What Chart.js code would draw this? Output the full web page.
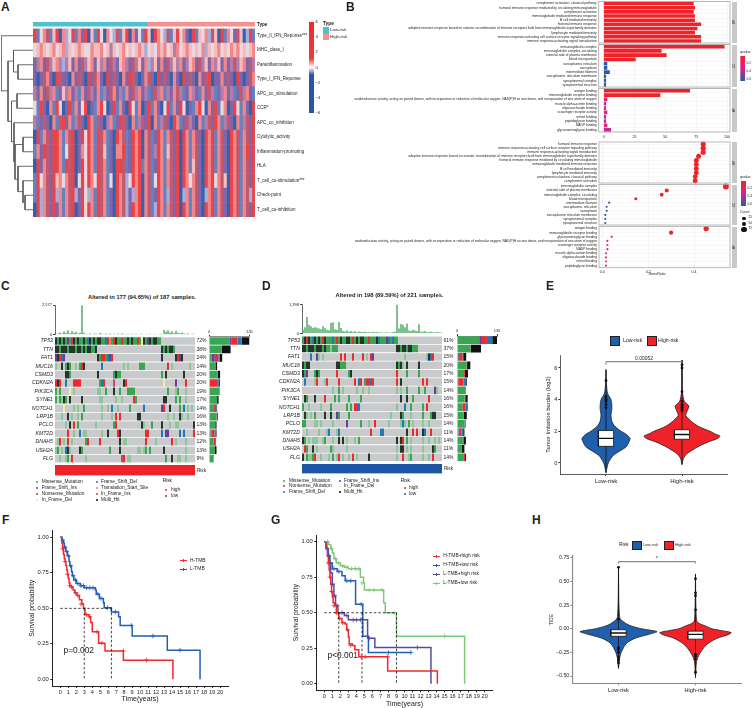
<!DOCTYPE html>
<html>
<head>
<meta charset="utf-8">
<script src="https://cdn.jsdelivr.net/npm/chart.js@4/dist/chart.umd.js"></script>
<style>
  body { margin: 0; background: #fff; }
  #page { position: relative; width: 752px; height: 708px; overflow: hidden; font-family: "Liberation Sans", Arial, sans-serif; color: #222; }
  #page canvas { position: absolute; }
  .t { position: absolute; white-space: nowrap; transform: translateY(-50%); line-height: 1; }
  .s { position: absolute; }
</style>
</head>
<body>
<div id="page"></div>
<script>
// ---- panel A ----
const heatLabels = ['Type_II_IFN_Reponse***', 'MHC_class_I', 'Parainflammation', 'Type_I_IFN_Reponse', 'APC_co_stimulation', 'CCR*', 'APC_co_inhibition', 'Cytolytic_activity', 'Inflammation-promoting', 'HLA', 'T_cell_co-stimulation***', 'Check-point', 'T_cell_co-inhibition'];
const heatPalette = ['#3560ae', '#6481c0', '#a5aed8', '#8066a8', '#b07ea8', '#e9d8e0', '#f5bcbc', '#f28688', '#ea4448', '#c2586e'];
const heatRows = [
  '8157916807 2581738061 8507529168 0735186087 5291685730 8165729608 1753960281',
  '5676567567 2656765576 6756465675 6567625657 6756475676 5657265675 6576756567',
  '3473946742 4637394673 6473943674 3946372463 7394647346 7394637463 7349467394',
  '3039730893 3073930839 7308393073 8930379308 3930730839 3073980337 3930830397',
  '4373947136 4734173943 7143973417 3947341394 7143794137 4317394134 7341394731',
  '5183071850 3817358031 7850381730 8517038173 0581738503 1785073815 7038517308',
  '4139307198 3714930871 9304713893 0714938071 4930871394 3071493871 4930714938',
  '0817938871 7980385871 8971308791 3878079138 7179380871 7930878179 3087917938',
  '1738938871 5980375871 8961307781 3878079148 7169380871 7930878179 3087917838',
  '0837938871 8980385871 8971308891 3878179138 7179380871 6930878179 3087917938',
  '1857938675 7980585875 8971508792 5878079158 7179380875 7930878579 6087917938',
  '1827938271 7982385271 8971308792 3278079138 7129380271 7930278179 3087917928',
  '0827938371 7980385871 8971308792 3878079128 7179380871 7930878179 3087917938'
];
const typeCounts = [208, 196];
const dendroSegments = [
  [25,11,33,11],[25,12,33,12],[25,11,25,12],
  [23,10,33,10],[23,11.5,25,11.5],[23,10,23,11.5],
  [18,9,33,9],[18,10.75,23,10.75],[18,9,18,10.75],
  [23,7,33,7],[23,8,33,8],[23,7,23,8],
  [15,7.5,23,7.5],[15,9.9,18,9.9],[15,7.5,15,9.9],
  [14,6,33,6],[14,8.7,15,8.7],[14,6,14,8.7],
  [17,4,33,4],[17,5,33,5],[17,4,17,5],
  [11.5,4.5,17,4.5],[11.5,7.3,14,7.3],[11.5,4.5,11.5,7.3],
  [18,2,33,2],[18,3,33,3],[18,2,18,3],
  [13.5,1,33,1],[13.5,2.5,18,2.5],[13.5,1,13.5,2.5],
  [8,1.75,13.5,1.75],[8,5.9,11.5,5.9],[8,1.75,8,5.9],
  [1,0,33,0],[1,3.8,8,3.8],[1,0,1,3.8]
];

// ---- panel B ----
const barLabelsBP = ['complement activation, classical pathway', 'humoral immune response mediated by circulating immunoglobulin', 'complement activation', 'immunoglobulin mediated immune response', 'B cell mediated immunity', 'humoral immune response', 'adaptive immune response based on somatic recombination of immune receptors built from immunoglobulin superfamily domains', 'lymphocyte mediated immunity', 'immune response-activating cell surface receptor signaling pathway', 'immune response-activating signal transduction'];
const barValuesBP = [73, 74, 73, 74, 74, 79, 76, 74, 79, 79];
const barLabelsCC = ['immunoglobulin complex', 'immunoglobulin complex, circulating', 'external side of plasma membrane', 'blood microparticle', 'sarcoplasmic reticulum', 'sarcoplasm', 'intermediate filament', 'sarcoplasmic reticulum membrane', 'synaptonemal complex', 'synaptonemal structure'];
const barValuesCC = [98, 47, 51, 26, 3, 3, 5, 2, 2, 2];
const oxidoLabel = 'oxidoreductase activity, acting on paired donors, with incorporation or reduction of molecular oxygen, NAD(P)H as one donor, and incorporation of one atom of oxygen';
const barLabelsMF = ['antigen binding', 'immunoglobulin receptor binding', oxidoLabel, 'muscle alpha-actinin binding', 'oligosaccharide binding', 'scavenger receptor activity', 'retinol binding', 'peptidoglycan binding', 'NADP binding', 'glycosaminoglycan binding'];
const barValuesMF = [70, 46, 3, 2, 2, 3, 2, 2, 3, 6];
const dotLabelsBP = ['humoral immune response', 'immune response-activating cell surface receptor signaling pathway', 'immune response-activating signal transduction', 'adaptive immune response based on somatic recombination of immune receptors built from immunoglobulin superfamily domains', 'humoral immune response mediated by circulating immunoglobulin', 'immunoglobulin mediated immune response', 'B cell mediated immunity', 'lymphocyte mediated immunity', 'complement activation, classical pathway', 'complement activation'];
const dotValuesBP = [0.44, 0.44, 0.44, 0.42, 0.41, 0.41, 0.41, 0.41, 0.405, 0.405];
const dotLabelsCC = ['immunoglobulin complex', 'external side of plasma membrane', 'immunoglobulin complex, circulating', 'blood microparticle', 'intermediate filament', 'sarcoplasmic reticulum', 'sarcoplasm', 'sarcoplasmic reticulum membrane', 'synaptonemal complex', 'synaptonemal structure'];
const dotValuesCC = [0.539, 0.281, 0.259, 0.146, 0.03, 0.019, 0.019, 0.013, 0.013, 0.013];
const dotLabelsMF = ['antigen binding', 'immunoglobulin receptor binding', 'glycosaminoglycan binding', oxidoLabel, 'scavenger receptor activity', 'NADP binding', 'muscle alpha-actinin binding', 'oligosaccharide binding', 'retinol binding', 'peptidoglycan binding'];
const dotValuesMF = [0.453, 0.30, 0.041, 0.022, 0.022, 0.022, 0.016, 0.016, 0.016, 0.016];

// ---- panels C, D ----
const genes = ['TP53', 'TTN', 'FAT1', 'MUC16', 'CSMD3', 'CDKN2A', 'PIK3CA', 'SYNE1', 'NOTCH1', 'LRP1B', 'PCLO', 'KMT2D', 'DNAH5', 'USH2A', 'FLG'];
const pctC = ['72%', '38%', '24%', '14%', '20%', '20%', '19%', '17%', '14%', '16%', '13%', '13%', '12%', '13%', '9%'];
const pctD = ['61%', '37%', '15%', '20%', '17%', '15%', '14%', '16%', '16%', '15%', '14%', '11%', '14%', '11%', '14%'];
const mutColors = { '.': '#c9cacc', M: '#3aa655', m: '#8cc79a', H: '#111111', S: '#ec2a2f', D: '#2279b5', I: '#6a3d9a', L: '#f2eea0', F: '#d6455f', T: '#f08050' };
const cellColors = Object.assign({}, mutColors, { H: '#24352b' });
const oncoC = [
  'HMHMHMIMSH MHMMHMDHMH MHHMMDSTMS HMMSMMHMHM MSMLHMIHMH HMM....... ..........',
  'HHMHHHMHHH MHHMHMHHMM H......... .......... .......... ...HMHMHHM ..........',
  'IHSDI..... .......... .HMSSMDIS. .......... .......... ...H...... HSIH......',
  'm..H.MHM.. m.MSH..... ...D...... ....m.m... ..MMM..... ......S.m. .......m..',
  '.....HHM.. .......... .H.......M HMM....... .......... ...M.H.... ....H.....',
  'SHS..D...S SSS....... ..MDS....F ....HS.... .......... ....L..... I....S....',
  'M.M....L.m .......... .mm..M...H ..M...MMMM .......... ......M... mM...m....',
  'M.MmHM.H.. ...H...... ..mm...... m..m.....S M......... ....HH.... M.M..m....',
  '....L....m .m..M..... ...m..m.D. .m.....M.. ....D..... ...IS..H.. ..M.D.m.m.',
  '...m..H.m. .m.M...... ...m....m. S.S....... .HH....... ......m..m ..Hm..m...',
  '.....m.H.S .M........ m........M S......... ...Hm...M. ...H...m.. mm.......H',
  '......S..m ..D.mm.... ...m..H... .SH....... .....SS... ...D.II... ..D.D....S',
  '.mS.m.S.m. .....MS... ..S....... ..H.mm.... .....S.... m.......S. m....m....',
  'mM.m.DHm.. ..HM...... .......M.. ..H....... .mm.mM.M.. ....H..... .....m....',
  '..m..mM.S. .....m.... .......... ...FS.mm.. .......... .....M..H. .mm..m....'
];
const oncoD = [
  'MHSHMDHMHM SHMMMDMSMH MMHHMSMHMH HMMSMMMHDM MMIDMDMM.. .......... ..........',
  'HHMHHHMHHH MHMMmMMM.. .......... .......... .......HHM HHMHHMMM.. ..........',
  '....D..Im. m........S .S...S.... S.m.SI.... .......... .m........ ..mHDS....',
  'HMHH...... .......HHM MM........ .......... .......HMH m.H.....H. ..........',
  'HMI...MHM. .......S.. ...MH..... .......... .......S.. ..M.....M. ..........',
  '.D....mS.. .mS.....S. ......S.DS .MSSDS.... .......S.H .......... S.S.......',
  '.......... .....m..M. m......m.. m..m...... .......m.m ..M.....M. .M....Im..',
  '.HM...H... .S....M.M. ...M.....M .......... .........H ..H..M.... ...S......',
  'M..m.....m ....M..... ..M.M.SSD. .......... .......m.. .D..M..... M.S.......',
  '.Hm.m.M... .H..H..IM. ...M...... .......... ....m....H M...m..... M...MHH...',
  'MM....mm.m .....m.... ..I......M ...m..S... ...m.....m Dm.M.m.... m..m......',
  '..m.....m. ..mD...mD. .......... ....S....D D......... ..H..S.S.. HD..S.....',
  'HM.m.mmm.. mM...m..H. H.m...m.M. .......... .......H.H S.M.m..... m..m..m.m.',
  '.SM..H.m.. ....Mm.... ..m....... .......... .......m.H H.m.m..... m....HM...',
  'H.MmmMS..m ...m.M.mS. m..m.S.m.. ...H...... .......m.. S..mM..... m..m.S....'
];
const topC = [60,100,190,110,280,170,400,120,320,180,230,110,160,2577,180,90,70,120,60,90,110,60,150,80,60,100,70,110,60,90,70,100,60,120,70,60,90,50,80,60,90,70,60,80,50,70,60,90,50,60,70,50,80,60,420,250,380,200,300,150,350,170,120,200,100,90,120,70,80,90];
const topD = [180,300,800,420,350,260,300,280,240,200,350,250,180,160,520,540,200,180,560,260,120,100,150,90,120,70,110,60,100,80,70,90,60,70,50,80,60,70,50,60,40,50,60,40,50,70,90,1398,240,460,420,300,480,150,120,180,140,120,440,100,80,120,60,70,80,60,50,70,60,50];
// counts per gene, one list per mutation class
const sideMissenseC = [68,42,8,20,29,3,36,27,17,25,21,5,15,20,14];
const sideInsC = [6,0,11,1,1,0,0,0,0,0,0,3,0,0,0];
const sideNonsenseC = [21,0,12,1,0,24,0,0,3,1,0,10,8,0,2];
const sideDelC = [14,0,5,0,0,6,0,0,5,0,0,5,0,0,0];
const sideMultiC = [26,30,8,5,7,3,0,5,2,3,4,2,0,5,0];
const sideMissenseD = [75,46,4,33,24,4,30,26,18,23,26,5,20,17,21];
const sideInsD = [9,0,3,0,0,0,0,0,0,0,0,2,0,0,0];
const sideNonsenseD = [17,1,12,1,3,18,0,2,10,0,0,8,2,0,6];
const sideDelD = [18,0,2,0,0,8,0,0,6,0,3,6,0,0,0];
const sideMultiD = [16,34,10,11,10,3,0,8,2,10,1,4,8,8,3];

// ---- panels E, H ----
const tmbLowLevels = [-0.6,0,0.5,1,1.3,1.55,1.8,2,2.3,2.6,3,3.5,4,4.4,5,5.9];
const tmbLowWidths = [0,0.03,0.1,0.26,0.3,0.316,0.27,0.2,0.12,0.08,0.066,0.078,0.066,0.02,0.006,0];
const tmbHighLevels = [-0.1,0.3,0.6,1,1.3,1.55,1.7,1.85,2,2.3,2.6,3,3.3,3.6,3.9,4.5,5.5,6.5];
const tmbHighWidths = [0,0.02,0.07,0.2,0.33,0.47,0.5,0.43,0.37,0.22,0.13,0.05,0.07,0.09,0.03,0.006,0.004,0];
const tmbLowOutliers = [3.5,3.7,3.9,4.0,4.05,4.2,5.2];
const tmbHighOutliers = [3.3,3.4,3.5,3.6,3.7,3.9,4.5,6.0,6.2];
const tideLowLevels = [-0.42,-0.3,-0.25,-0.2,-0.15,-0.1,-0.06,-0.03,0,0.03,0.05,0.1,0.13,0.3,0.66];
const tideLowWidths = [0,0.017,0.035,0.065,0.108,0.216,0.39,0.5,0.3,0.165,0.108,0.026,0.013,0.004,0];
const tideHighLevels = [-0.52,-0.35,-0.28,-0.2,-0.15,-0.1,-0.06,-0.04,-0.02,0,0.03,0.05,0.08,0.3,0.58];
const tideHighWidths = [0,0.013,0.043,0.108,0.173,0.281,0.433,0.463,0.346,0.216,0.13,0.065,0.017,0.004,0];
const tideLowOutliers = [0.65,0.1,-0.2,-0.22,-0.25,-0.3,-0.33,-0.36];
const tideHighOutliers = [0.53,0.38,0.35,0.2,-0.27,-0.29,-0.32,-0.46];

// ---- panels F, G ----
const timeTicks = [0,1,2,3,4,5,6,7,8,9,10,11,12,13,14,15,16,17,18,19,20];
const survTicks = [0,0.25,0.5,0.75,1];
const hTmbTime = [0,0.2,0.3,0.4,0.5,0.6,0.7,0.8,0.9,1.0,1.1,1.2,1.4,1.6,1.8,2.1,2.4,2.7,2.9,3.1,3.6,3.8,4.0,4.8,5.6,7.9,14.1];
const hTmbSurv = [1,0.96,0.92,0.88,0.85,0.83,0.80,0.77,0.74,0.71,0.68,0.66,0.65,0.63,0.61,0.59,0.56,0.53,0.50,0.455,0.44,0.40,0.335,0.255,0.20,0.135,0];
const lTmbTime = [0,0.2,0.4,0.5,0.7,0.9,1.1,1.2,1.4,1.5,1.7,2.0,2.5,3,4.4,4.5,4.9,5.4,5.5,6.4,7.3,7.5,9,13.4,17.5];
const lTmbSurv = [1,0.98,0.96,0.93,0.90,0.87,0.83,0.80,0.76,0.73,0.70,0.675,0.66,0.645,0.63,0.60,0.57,0.54,0.505,0.475,0.44,0.38,0.305,0.205,0];
const hTmbCensorTime = [0.3,0.6,0.9,1.2,1.4,1.9,2.2,2.6,3.3,3.7,4.6,5.2,7.9,10.8];
const hTmbCensorSurv = [0.92,0.83,0.74,0.66,0.65,0.61,0.59,0.53,0.455,0.44,0.335,0.255,0.20,0.135];
const lTmbCensorTime = [0.3,0.6,0.8,1.0,1.3,1.6,1.9,2.2,2.6,2.9,3.3,3.7,4.1,4.7,5.1,5.9,6.9,8.9,11.6,15];
const lTmbCensorSurv = [0.98,0.93,0.90,0.87,0.80,0.73,0.70,0.675,0.66,0.66,0.645,0.645,0.645,0.60,0.57,0.505,0.475,0.38,0.305,0.205];
const refLinesF = [[0,0.5,6.4,0.5],[3,0.5,3,0],[6.4,0.5,6.4,0]];

const hhTime = [0,0.2,0.4,0.5,0.6,0.7,0.8,0.9,1,1.1,1.3,1.5,1.8,2.2,2.6,2.8,3,3.1,3.5,3.8,4.3,7.9,14.1];
const hhSurv = [1,0.96,0.90,0.85,0.80,0.75,0.70,0.65,0.61,0.57,0.55,0.50,0.46,0.43,0.42,0.38,0.33,0.28,0.27,0.24,0.19,0.09,0];
const hlTime = [0,0.3,0.5,0.7,1,1.6,2.2,2.6,3.9,4.8,5.5,10.8];
const hlSurv = [1,0.95,0.90,0.85,0.81,0.79,0.76,0.725,0.56,0.335,0.22,0.22];
const lhTime = [0,0.2,0.4,0.6,0.8,1,1.2,1.4,1.7,2.5,3,5.4,6.3,13.3];
const lhSurv = [1,0.95,0.9,0.85,0.78,0.7,0.62,0.55,0.50,0.48,0.45,0.32,0.255,0];
const llTime = [0,0.5,0.8,1,1.2,1.5,2,2.5,3,4.5,4.9,5,7.4,7.6,9,17.5];
const llSurv = [1,0.98,0.95,0.92,0.88,0.85,0.83,0.82,0.81,0.75,0.71,0.66,0.57,0.50,0.335,0];
const hhCensorTime = [0.5,0.7,0.9,1.2,1.5,1.9,2.3,2.9,3.3,4.6,5.1,7.9];
const hhCensorSurv = [0.85,0.75,0.65,0.55,0.50,0.46,0.43,0.38,0.27,0.19,0.19,0.19];
const hlCensorTime = [0.6,1.2,1.8,2.8,3.3,4.6,8,10.8];
const hlCensorSurv = [0.90,0.81,0.79,0.725,0.725,0.56,0.22,0.22];
const lhCensorTime = [0.7,1,1.3,1.6,2.2,2.8,3.6,4,4.5,5.6,11.6];
const lhCensorSurv = [0.85,0.7,0.62,0.55,0.50,0.48,0.45,0.45,0.45,0.32,0.255];
const llCensorTime = [0.4,0.9,1.4,1.8,2.3,2.8,3.4,3.9,4.3,4.7,5.6,6.2,7.2,8.7,15];
const llCensorSurv = [1,0.95,0.88,0.85,0.83,0.82,0.81,0.81,0.81,0.71,0.66,0.66,0.66,0.50,0.335];
const refLinesG = [[0,0.5,9,0.5],[1.8,0.5,1.8,0],[4.7,0.5,4.7,0],[9,0.5,9,0]];

const RED = '#ee2228', BLUE = '#1f5fae';
const page = document.getElementById('page');
Chart.defaults.font.family = '"Liberation Sans", Arial, sans-serif';
Chart.defaults.color = '#222';
Chart.defaults.animation = false;
Chart.defaults.plugins.legend.display = false;
Chart.defaults.plugins.tooltip.enabled = false;

function text(x, y, str, o) {
    o = o || {};
    var d = document.createElement('div');
    d.className = 't';
    d.textContent = str;
    d.style.left = x + 'px';
    d.style.top = y + 'px';
    d.style.fontSize = (o.size || 5) + 'px';
    if (o.bold) d.style.fontWeight = 'bold';
    if (o.center) d.style.transform = 'translate(-50%,-50%)';
    if (o.rotate) d.style.transform = 'translate(-50%,-50%) rotate(' + o.rotate + 'deg)';
    page.appendChild(d);
}

function box(x, y, w, h, color, o) {
    o = o || {};
    var d = document.createElement('div');
    d.className = 's';
    d.style.cssText = 'left:' + x + 'px;top:' + y + 'px;width:' + w + 'px;height:' + h + 'px;background:' + color + ';' + (o.css || '');
    page.appendChild(d);
}

// plots are given by the pixel box of their chart area, axes get fixed room around it
function chartIn(p, cfg) {
    const M = 6;
    const l = p.l || 0, r = p.r || 0, t = p.t || 0, b = p.b || 0;
    const cx = Math.floor(p.x0 - l - M), cy = Math.floor(p.y0 - t - M);
    const cw = Math.ceil(p.x1 + r + M) - cx, ch = Math.ceil(p.y1 + b + M) - cy;
    const c = document.createElement('canvas');
    c.width = cw; c.height = ch;
    c.style.left = cx + 'px'; c.style.top = cy + 'px';
    c.style.width = cw + 'px'; c.style.height = ch + 'px';
    page.appendChild(c);
    cfg.options = cfg.options || {};
    cfg.options.responsive = false;
    cfg.options.maintainAspectRatio = false;
    cfg.options.layout = { padding: { left: p.x0 - l - cx, top: p.y0 - t - cy, right: cx + cw - p.x1 - r, bottom: cy + ch - p.y1 - b } };
    Object.keys(cfg.options.scales || {}).forEach(function (k) {
        const s = cfg.options.scales[k];
        const horizontal = k[0] === 'x';
        const pos = s.position || (horizontal ? 'bottom' : 'left');
        const size = { left: l, right: r, top: t, bottom: b }[pos];
        s.afterFit = function (sc) { if (horizontal) sc.height = size; else sc.width = size; };
        s.ticks = Object.assign({ autoSkip: false, maxRotation: 0, minRotation: 0 }, s.ticks || {});
    });
    return new Chart(c, cfg);
}

const framePlugin = {
    id: 'frame',
    afterDatasetsDraw(chart) {
        const a = chart.chartArea, ctx = chart.ctx;
        ctx.save();
        ctx.strokeStyle = '#a8a8a8';
        ctx.lineWidth = 0.8;
        ctx.strokeRect(a.left, a.top, a.right - a.left, a.bottom - a.top);
        ctx.restore();
    }
};

// small text notes placed in data units
const notePlugin = {
    id: 'notes',
    afterDatasetsDraw(chart, args, opts) {
        const ctx = chart.ctx;
        (opts.items || []).forEach(function (n) {
            ctx.save();
            ctx.font = n.size + 'px "Liberation Sans", Arial, sans-serif';
            ctx.fillStyle = '#222';
            ctx.textAlign = n.align || 'left';
            ctx.textBaseline = 'middle';
            ctx.fillText(n.text, chart.scales.x.getPixelForValue(n.x), chart.scales.y.getPixelForValue(n.y));
            ctx.restore();
        });
    }
};

function zip(xs, ys) { return xs.map((x, i) => ({ x: x, y: ys[i] })); }
function segPoints(list) { return list.flatMap(s => [{ x: s[0], y: s[1] }, { x: s[2], y: s[3] }, { x: null, y: null }]); }
function setTicks(values) { return function (s) { s.ticks = values.map(v => ({ value: v })); }; }
const noGrid = { display: false, drawTicks: false };

// one stacked bar dataset per column gives a cell grid on the category axis
function gridChart(p, names, rows, colorOf, o) {
    const clean = rows.map(r => r.replace(/ /g, '').padEnd(70, '.').slice(0, 70));
    const sets = [];
    for (let c = 0; c < 70; c++) {
        sets.push({
            data: clean.map(() => 1),
            backgroundColor: clean.map(r => colorOf(r[c])),
            barPercentage: 1,
            categoryPercentage: o.gap,
            inflateAmount: o.gap === 1 ? 0.33 : 0,
            borderWidth: 0
        });
    }
    const scales = {
        x: { display: false, stacked: true, min: 0, max: 70 },
        y: { stacked: true, offset: true, position: o.labelSide || 'left', border: { display: false }, grid: noGrid,
             ticks: { padding: 2, color: '#222', font: o.labelFont } }
    };
    if (o.rightLabels) {
        scales.y2 = { type: 'category', axis: 'y', labels: o.rightLabels, position: 'right', offset: true,
                      border: { display: false }, grid: noGrid,
                      ticks: { padding: 1.5, font: { size: o.rightSize }, color: '#222' } };
    }
    return chartIn(p, { type: 'bar', data: { labels: names, datasets: sets },
                        options: { indexAxis: 'y', scales: scales } });
}

function solidBar(p, label, values, colors, o) {
    o = o || {};
    return chartIn(p, {
        type: 'bar',
        data: { labels: [label], datasets: values.map((v, i) => ({ data: [v], backgroundColor: colors[i], barPercentage: 1, categoryPercentage: 1, borderWidth: 0 })) },
        options: { indexAxis: 'y', scales: {
            x: { display: false, stacked: true, min: 0, max: values.reduce((a, b) => a + b, 0) },
            y: { stacked: true, position: 'right', border: { display: false }, grid: noGrid,
                 ticks: { padding: 2, color: '#222', font: { size: 4.6, weight: o.bold ? 'bold' : 'normal' } } }
        } }
    });
}

function colorBar(p, min, max, stops, ticks, o) {
    o = o || {};
    return chartIn(p, {
        type: 'bar',
        data: { labels: [''], datasets: [{
            data: [[min, max]],
            barPercentage: 1, categoryPercentage: 1, borderWidth: 0,
            backgroundColor: function (ctx) {
                const a = ctx.chart.chartArea;
                if (!a) return stops[0][1];
                const g = ctx.chart.ctx.createLinearGradient(0, a.top, 0, a.bottom);
                stops.forEach(s => g.addColorStop(s[0], s[1]));
                return g;
            }
        }] },
        options: { scales: {
            x: { display: false },
            y: { position: 'right', min: min, max: max, reverse: !!o.reverse, afterBuildTicks: setTicks(ticks),
                 border: { display: false }, grid: noGrid,
                 ticks: { padding: 1.5, font: { size: o.size || 4.2 }, callback: o.format } }
        } }
    });
}

// ---------- A ----------
text(1, 7, 'A', { size: 12, bold: true });
chartIn({ x0: 1, x1: 33, y0: 28.5, y1: 217 }, {
    type: 'scatter',
    data: { datasets: [{ data: segPoints(dendroSegments), showLine: true, pointRadius: 0, borderColor: '#5a5a5a', borderWidth: 0.9 }] },
    options: { scales: { x: { display: false, min: 1, max: 33 }, y: { display: false, min: -0.5, max: 12.5, reverse: true } } }
});
solidBar({ x0: 33, x1: 255, y0: 22, y1: 26.6, r: 30 }, 'Type', typeCounts, ['#4cc2cc', '#f5918e'], { bold: true });
gridChart({ x0: 33, x1: 255, y0: 28.5, y1: 217, r: 70 }, heatLabels, heatRows, ch => heatPalette[+ch], { gap: 1, labelSide: 'right', labelFont: { size: 4.5 } });
colorBar({ x0: 309, x1: 314, y0: 22, y1: 113, r: 10 }, -6, 6,
    [[0, '#ee2a2e'], [0.4, '#ee3a3e'], [0.5, '#ffffff'], [0.58, '#2a55a5'], [1, '#2a55a5']],
    [-6, -4, -2, 0, 2, 4, 6], { format: v => String(v).replace('-', '\u2212') });
text(323, 23.5, 'Type', { size: 4.8, bold: true });
box(323, 27, 5.5, 6.5, '#4cc2cc');
box(323, 33.5, 5.5, 6.5, '#f5918e');
text(330, 30, 'Low-risk', { size: 4.4 });
text(330, 36.5, 'High-risk', { size: 4.4 });

// ---------- B ----------
text(346, 7, 'B', { size: 12, bold: true });
function goBars(y0, y1, labels, values, colors, last) {
    chartIn({ x0: 598.7, x1: 730, y0: y0, y1: y1, l: 258, b: last ? 7 : 0 }, {
        type: 'bar',
        data: { labels: labels, datasets: [{ data: values, backgroundColor: colors, barPercentage: 0.86, categoryPercentage: 1, borderWidth: 0 }] },
        options: { indexAxis: 'y', scales: {
            x: { min: -4, max: 102.4, afterBuildTicks: setTicks([0, 25, 50, 75, 100]), border: { display: false },
                 grid: { color: '#ececec', lineWidth: 0.5, tickLength: last ? 1.5 : 0 },
                 ticks: { display: !!last, font: { size: 3.6 }, padding: 1 } },
            y: { offset: true, border: { display: false }, grid: { color: '#f0f0f0', lineWidth: 0.5, drawTicks: false },
                 ticks: { font: { size: 3.3 }, padding: 2, color: '#222' } }
        } },
        plugins: [framePlugin]
    });
}
function goDots(y0, y1, labels, values, colors, last) {
    chartIn({ x0: 599, x1: 730, y0: y0, y1: y1, l: 258, b: last ? 7 : 0 }, {
        type: 'scatter',
        data: { datasets: [{ data: zip(values, labels), backgroundColor: colors, borderWidth: 0,
                             pointRadius: values.map(v => 1 + v * 3.6) }] },
        options: { scales: {
            x: { min: -0.0145, max: 0.557, afterBuildTicks: setTicks([0, 0.2, 0.4]), border: { display: false },
                 grid: { color: '#ececec', lineWidth: 0.5, tickLength: last ? 1.5 : 0 },
                 ticks: { display: !!last, font: { size: 3.6 }, padding: 1, callback: v => v.toFixed(1) } },
            y: { type: 'category', labels: labels, offset: true, border: { display: false },
                 grid: { color: '#f0f0f0', lineWidth: 0.5, drawTicks: false },
                 ticks: { font: { size: 3.3 }, padding: 2, color: '#222' } }
        } },
        plugins: [framePlugin]
    });
}
const redN = n => RED, blueLow = '#2f5aa8', pink = '#e0218a', deepPink = '#c92a90';
goBars(1.5, 43, barLabelsBP, barValuesBP, barValuesBP.map(redN), false);
goBars(44.5, 87, barLabelsCC, barValuesCC, barValuesCC.map((v, i) => i < 4 ? RED : blueLow), false);
goBars(88.5, 132, barLabelsMF, barValuesMF, barValuesMF.map((v, i) => i < 2 ? RED : (i === 9 ? deepPink : pink)), true);
goDots(142, 183, dotLabelsBP, dotValuesBP, dotValuesBP.map(redN), false);
goDots(184.5, 225, dotLabelsCC, dotValuesCC, dotValuesCC.map((v, i) => i < 4 ? RED : blueLow), false);
goDots(226.5, 267.7, dotLabelsMF, dotValuesMF, dotValuesMF.map((v, i) => i < 2 ? RED : (i === 2 ? deepPink : pink)), true);
text(657, 275, 'GeneRatio', { size: 3.6, center: true });
[[1.5, 43, 'BP'], [44.5, 87, 'CC'], [88.5, 132, 'MF'], [142, 183, 'BP'], [184.5, 225, 'CC'], [226.5, 267.7, 'MF']].forEach(function (f) {
    box(731.5, f[0], 5, f[1] - f[0], '#c8c8c8');
    text(734, (f[0] + f[1]) / 2, f[2], { size: 3, rotate: -90 });
});
const qStops = [[0, '#ee2228'], [0.45, '#e0218a'], [1, '#2f5aa8']];
text(740, 53, 'qvalue', { size: 3.6 });
colorBar({ x0: 740.3, x1: 745, y0: 56, y1: 81, r: 6 }, 0.013, 0.65, qStops, [0.2, 0.4, 0.6], { reverse: true, size: 3.2, format: v => v.toFixed(1) });
text(740, 178, 'qvalue', { size: 3.6 });
colorBar({ x0: 741, x1: 746, y0: 181, y1: 206, r: 6 }, 0.014, 0.65, qStops, [0.2, 0.4, 0.6], { reverse: true, size: 3.2, format: v => v.toFixed(1) });
text(740, 213, 'Count', { size: 3.6 });
[[218.3, 1.8, '25'], [223.7, 2.2, '50'], [229.3, 2.6, '75']].forEach(function (k) {
    box(744 - k[1], k[0] - k[1], k[1] * 2, k[1] * 2, '#111', { css: 'border-radius:50%;' });
    text(748.5, k[0], k[2], { size: 3.2 });
});

// ---------- C, D ----------
function topBars(x0, x1, y0, y1, values, maxVal) {
    chartIn({ x0: x0, x1: x1, y0: y0, y1: y1, l: 16 }, {
        type: 'bar',
        data: { labels: values.map((v, i) => i), datasets: [{ data: values, backgroundColor: '#4fae66', barPercentage: 0.75, categoryPercentage: 1, borderWidth: 0 }] },
        options: { scales: {
            x: { display: false },
            y: { min: 0, max: maxVal, afterBuildTicks: setTicks([0, maxVal]), border: { color: '#444', width: 0.8 },
                 grid: { drawOnChartArea: false, tickLength: 2, color: '#444' }, ticks: { font: { size: 4 }, padding: 1 } }
        } }
    });
}
function sideBars(x0, x1, y0, y1, parts) {
    const colors = [mutColors.M, mutColors.I, mutColors.S, mutColors.D, mutColors.H];
    chartIn({ x0: x0, x1: x1, y0: y0, y1: y1, t: 9 }, {
        type: 'bar',
        data: { labels: genes, datasets: parts.map((d, i) => ({ data: d, backgroundColor: colors[i], barPercentage: 0.92, categoryPercentage: 1, borderWidth: 0 })) },
        options: { indexAxis: 'y', scales: {
            x: { position: 'top', stacked: true, min: 0, max: 135, afterBuildTicks: setTicks([0, 135]), border: { color: '#444', width: 0.6 },
                 grid: { drawOnChartArea: false, tickLength: 2, color: '#444' }, ticks: { font: { size: 4 }, padding: 1 } },
            y: { display: false, stacked: true, offset: true }
        } }
    });
}
const geneFont = { size: 5.2, style: 'italic' };
text(142, 297.5, 'Altered in 177 (94.65%) of 187 samples.', { size: 5.8, bold: true, center: true });
text(1, 286, 'C', { size: 12, bold: true });
topBars(55, 195, 305.3, 334.7, topC, 2577);
gridChart({ x0: 55, x1: 195, y0: 336.8, y1: 462.8, l: 30, r: 14 }, genes, oncoC, ch => cellColors[ch], { gap: 0.9, labelFont: geneFont, rightLabels: pctC, rightSize: 5 });
sideBars(209, 249.5, 336.8, 462.8, [sideMissenseC, sideInsC, sideNonsenseC, sideDelC, sideMultiC]);
solidBar({ x0: 55, x1: 195, y0: 465, y1: 475.5, r: 14 }, 'Risk', [187], [RED]);

text(389.5, 295.7, 'Altered in 198 (89.59%) of 221 samples.', { size: 5.8, bold: true, center: true });
text(262, 286, 'D', { size: 12, bold: true });
topBars(302, 442, 304.5, 333.5, topD, 1398);
gridChart({ x0: 302, x1: 442, y0: 336, y1: 461.5, l: 30, r: 14 }, genes, oncoD, ch => cellColors[ch], { gap: 0.9, labelFont: geneFont, rightLabels: pctD, rightSize: 5 });
sideBars(457, 497, 336, 461.5, [sideMissenseD, sideInsD, sideNonsenseD, sideDelD, sideMultiD]);
solidBar({ x0: 302, x1: 442, y0: 464, y1: 473.5, r: 14 }, 'Risk', [221], ['#1d55a6']);

function mutLegend(dotX, textX, y, label, color) {
    box(dotX - 1, y - 1, 2, 2, color, { css: 'border-radius:50%;' });
    text(textX, y, label, { size: 4.8 });
}
[['Missense_Mutation', mutColors.M], ['Frame_Shift_Ins', mutColors.I], ['Nonsense_Mutation', mutColors.S], ['In_Frame_Del', mutColors.L]].forEach((e, i) => mutLegend(36.7, 41.7, 482 + i * 6, e[0], e[1]));
[['Frame_Shift_Del', mutColors.D], ['Translation_Start_Site', mutColors.T], ['In_Frame_Ins', mutColors.F], ['Multi_Hit', mutColors.H]].forEach((e, i) => mutLegend(96.7, 101, 482 + i * 6, e[0], e[1]));
text(162.7, 481, 'Risk', { size: 4.8 });
mutLegend(166, 171, 489.5, 'high', RED);
mutLegend(166, 171, 495.5, 'low', '#1d55a6');
[['Missense_Mutation', mutColors.M], ['Nonsense_Mutation', mutColors.S], ['Frame_Shift_Del', mutColors.D]].forEach((e, i) => mutLegend(284.3, 289, 480.7 + i * 5.7, e[0], e[1]));
[['Frame_Shift_Ins', mutColors.I], ['In_Frame_Del', mutColors.L], ['Multi_Hit', mutColors.H]].forEach((e, i) => mutLegend(340, 344, 480.7 + i * 5.7, e[0], e[1]));
text(400.7, 480.5, 'Risk', { size: 4.8 });
mutLegend(404.7, 409, 488, 'high', RED);
mutLegend(404.7, 409, 494, 'low', '#1d55a6');

// ---------- E, H ----------
function violinSets(center, levels, widths, q, whisker, outliers, color) {
    const right = levels.map((y, i) => ({ x: center + widths[i], y: y }));
    const left = levels.map((y, i) => ({ x: center - widths[i], y: y })).reverse();
    const hw = 0.1;
    return [
        { data: outliers.map(y => ({ x: center, y: y })), pointRadius: 1.4, backgroundColor: '#111', borderWidth: 0, showLine: false },
        { data: [{ x: center - hw, y: q[1] }, { x: center + hw, y: q[1] }], showLine: true, pointRadius: 0, borderColor: '#111', borderWidth: 1.3 },
        { data: [{ x: center - hw, y: q[0] }, { x: center + hw, y: q[0] }, { x: center + hw, y: q[2] }, { x: center - hw, y: q[2] }, { x: center - hw, y: q[0] }],
          showLine: true, pointRadius: 0, fill: 'shape', backgroundColor: '#fff', borderColor: '#111', borderWidth: 0.8 },
        { data: [{ x: center, y: whisker[0] }, { x: center, y: whisker[1] }], showLine: true, pointRadius: 0, borderColor: '#111', borderWidth: 0.8 },
        { data: right.concat(left), showLine: true, pointRadius: 0, fill: 'shape', backgroundColor: color, borderColor: '#222', borderWidth: 0.8, tension: 0.25 }
    ];
}
function violinAxes(ymin, ymax, ticks, xmin, xmax, title, o) {
    const line = { color: o.axisColor, width: o.axisWidth };
    return {
        x: { type: 'linear', min: xmin, max: xmax, afterBuildTicks: setTicks([1, 2]), border: line,
             grid: { drawOnChartArea: false, tickLength: 2, color: o.axisColor },
             ticks: { font: { size: o.xSize }, padding: 2, callback: v => ['Low-risk', 'High-risk'][v - 1] } },
        y: { min: ymin, max: ymax, afterBuildTicks: setTicks(ticks), border: line,
             grid: { drawOnChartArea: false, tickLength: 2, color: o.axisColor },
             title: { display: true, text: title, font: { size: o.titleSize }, padding: 0 },
             ticks: { font: { size: o.ySize }, padding: 1, callback: o.format } }
    };
}
text(546, 286, 'E', { size: 12, bold: true });
box(610.7, 336.7, 8, 8, BLUE, { css: 'outline:0.7px solid #222;' });
text(623, 341, 'Low-risk', { size: 5.2 });
box(648, 336.7, 8, 8, RED, { css: 'outline:0.7px solid #222;' });
text(658, 341, 'High-risk', { size: 5.2 });
chartIn({ x0: 560.4, x1: 727.6, y0: 355, y1: 474, l: 15.5, b: 14 }, {
    type: 'scatter',
    data: { datasets: [{ data: segPoints([[1, 6.2, 1, 6.4], [1, 6.4, 2, 6.4]]), showLine: true, pointRadius: 0, borderColor: '#8a8a8a', borderWidth: 1.1 }]
        .concat(violinSets(1, tmbLowLevels, tmbLowWidths, [1.05, 1.56, 2.05], [-0.65, 5.9], tmbLowOutliers, BLUE))
        .concat(violinSets(2, tmbHighLevels, tmbHighWidths, [1.5, 1.8, 2.1], [-0.1, 6.5], tmbHighOutliers, RED)) },
    options: {
        scales: violinAxes(-0.695, 6.82, [0, 2, 4, 6], 0.4, 2.6, 'Tumor Imbation burden (log2)', { axisColor: '#333', axisWidth: 0.8, xSize: 6, ySize: 5.6, titleSize: 5.8 }),
        plugins: { notes: { items: [{ x: 1.5, y: 6.58, text: '0.00052', size: 5, align: 'center' }] } }
    },
    plugins: [notePlugin]
});
text(532, 520, 'H', { size: 12, bold: true });
text(619, 545, 'Risk', { size: 4.8 });
box(633, 541.5, 7.5, 7.5, BLUE, { css: 'outline:0.7px solid #222;' });
text(643, 545, 'Low-risk', { size: 4 });
box(665, 541.5, 7.5, 7.5, RED, { css: 'outline:0.7px solid #222;' });
text(675, 545, 'High-risk', { size: 4 });
chartIn({ x0: 572.3, x1: 741.7, y0: 556, y1: 683.3, l: 24, b: 12 }, {
    type: 'scatter',
    data: { datasets: [{ data: segPoints([[1, 0.69, 1, 0.71], [1, 0.71, 2, 0.71], [2, 0.71, 2, 0.69]]), showLine: true, pointRadius: 0, borderColor: '#8a8a8a', borderWidth: 1.1 }]
        .concat(violinSets(1, tideLowLevels, tideLowWidths, [-0.08, -0.045, -0.01], [-0.41, 0.66], tideLowOutliers, BLUE))
        .concat(violinSets(2, tideHighLevels, tideHighWidths, [-0.11, -0.06, -0.025], [-0.5, 0.58], tideHighOutliers, RED)) },
    options: {
        scales: violinAxes(-0.577, 0.77, [-0.5, -0.25, 0, 0.25, 0.5, 0.75], 0.4, 2.6, 'TIDE', { axisColor: '#888', axisWidth: 1.1, xSize: 5.6, ySize: 5.3, titleSize: 5,
            format: v => v.toFixed(2).replace('-', '\u2212') }),
        plugins: { notes: { items: [{ x: 1.5, y: 0.745, text: '*', size: 5, align: 'center' }] } }
    },
    plugins: [notePlugin]
});

// ---------- F, G ----------
function kmSets(lines, refs) {
    const sets = [];
    lines.forEach(function (l) {
        sets.push({ data: zip(l.ct, l.cs), showLine: false, pointStyle: 'cross', pointRadius: 2.3, borderColor: l.color, borderWidth: 0.8 });
    });
    sets.unshift({ data: segPoints(refs), showLine: true, pointRadius: 0, borderColor: '#111', borderWidth: 0.8, borderDash: [2.5, 2] });
    lines.forEach(function (l) {
        sets.push({ data: zip(l.t, l.s), showLine: true, stepped: 'before', pointRadius: 0, borderColor: l.color, borderWidth: 1.5 });
    });
    return sets;
}
function kmChart(x0, x1, y0, y1, lines, refs, ymin, ymax, note) {
    const line = { color: '#222', width: 1 };
    chartIn({ x0: x0, x1: x1, y0: y0, y1: y1, l: 24, b: 17.5 }, {
        type: 'scatter',
        data: { datasets: kmSets(lines, refs) },
        options: {
            scales: {
                x: { min: -1, max: 21, afterBuildTicks: setTicks(timeTicks), border: line,
                     grid: { drawOnChartArea: false, tickLength: 2, color: '#222' },
                     title: { display: true, text: 'Time(years)', font: { size: 7 }, padding: 0 },
                     ticks: { font: { size: 5.6 }, padding: 1 } },
                y: { min: ymin, max: ymax, afterBuildTicks: setTicks(survTicks), border: line,
                     grid: { drawOnChartArea: false, tickLength: 2, color: '#222' },
                     title: { display: true, text: 'Survival probability', font: { size: 6.8 }, padding: 0 },
                     ticks: { font: { size: 5.8 }, padding: 1.5, callback: v => v.toFixed(2) } }
            },
            plugins: { notes: { items: [note] } }
        },
        plugins: [notePlugin]
    });
}
function kmLegend(x, y, label, color) {
    box(x, y - 0.6, 7, 1.2, color);
    box(x + 3, y - 1.5, 1.2, 3, color);
    text(x + 10.5, y, label, { size: 4.9 });
}
text(2, 520, 'F', { size: 12, bold: true });
kmChart(52.3, 228, 530.7, 686,
    [{ t: hTmbTime, s: hTmbSurv, ct: hTmbCensorTime, cs: hTmbCensorSurv, color: '#f0292f' },
     { t: lTmbTime, s: lTmbSurv, ct: lTmbCensorTime, cs: lTmbCensorSurv, color: '#1f5fb8' }],
    refLinesF, -0.047, 1.047, { x: 0.4, y: 0.2, text: 'p=0.002', size: 8.4 });
kmLegend(179.5, 560.7, 'H-TMB', '#f0292f');
kmLegend(179.5, 569.3, 'L-TMB', '#1f5fb8');

text(271, 520, 'G', { size: 12, bold: true });
kmChart(316.3, 492.7, 535, 690.3,
    [{ t: hhTime, s: hhSurv, ct: hhCensorTime, cs: hhCensorSurv, color: '#f0292f' },
     { t: hlTime, s: hlSurv, ct: hlCensorTime, cs: hlCensorSurv, color: '#1f5fb8' },
     { t: lhTime, s: lhSurv, ct: lhCensorTime, cs: lhCensorSurv, color: '#5b4a9c' },
     { t: llTime, s: llSurv, ct: llCensorTime, cs: llCensorSurv, color: '#7fca78' }],
    refLinesG, -0.046, 1.047, { x: 0.4, y: 0.195, text: 'p<0.001', size: 8.4 });
kmLegend(432.7, 556.3, 'H-TMB+high risk', '#f0292f');
kmLegend(432.7, 565.3, 'H-TMB+low risk', '#1f5fb8');
kmLegend(432.7, 574.3, 'L-TMB+high risk', '#5b4a9c');
kmLegend(432.7, 583.3, 'L-TMB+low risk', '#7fca78');
</script>
</body>
</html>
